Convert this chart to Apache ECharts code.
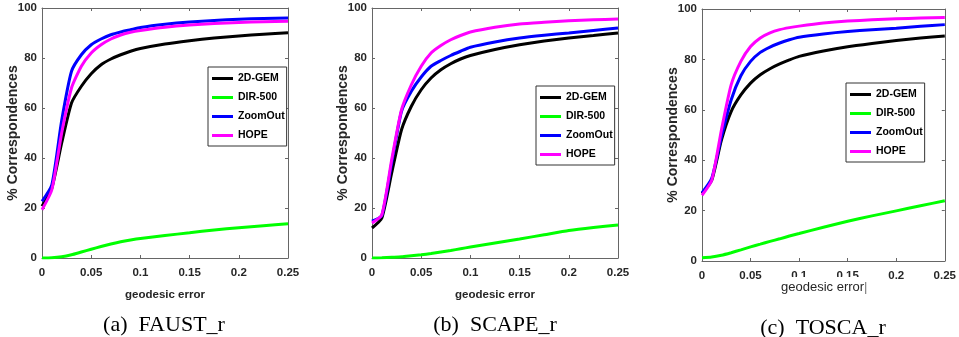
<!DOCTYPE html>
<html>
<head>
<meta charset="utf-8">
<script src="https://cdn.jsdelivr.net/npm/echarts@6/dist/echarts.min.js"></script>
<style>
  html, body { margin: 0; padding: 0; background: #fff; }
  #chart { width: 959px; height: 337px; }
</style>
</head>
<body>
<div id="chart"></div>
<script>
// geodesic error thresholds (x) shared by all three plots
const xs = [0, 0.01, 0.02, 0.03, 0.04, 0.05, 0.06, 0.07, 0.08, 0.09, 0.10, 0.125, 0.15, 0.175, 0.2, 0.225, 0.25];

const methods = ['2D-GEM', 'DIR-500', 'ZoomOut', 'HOPE'];
const colors = ['#000000', '#00ff00', '#0000ff', '#ff00ff'];

// (a) FAUST_r
const faustGem = [20.7, 28, 46, 62, 68.7, 73.7, 77.3, 79.6, 81.3, 82.7, 83.8, 85.6, 86.9, 88, 88.8, 89.5, 90.1];
const faustDir = [0, 0.1, 0.5, 1.3, 2.4, 3.5, 4.6, 5.6, 6.5, 7.2, 7.8, 9, 10.1, 11.2, 12.1, 12.9, 13.7];
const faustZoom = [22.7, 29.3, 55, 74.7, 81.3, 85.3, 87.6, 89.3, 90.4, 91.3, 92.2, 93.5, 94.4, 95, 95.5, 95.8, 96];
const faustHope = [19.3, 27.3, 50, 68, 76.7, 82, 85.3, 87.6, 89.2, 90.3, 91, 92.3, 93.2, 93.8, 94.2, 94.5, 94.7];

// (b) SCAPE_r
const scapeGem = [12, 16, 34, 51.3, 60.7, 67.3, 72, 75.3, 77.7, 79.6, 81, 83.4, 85.3, 86.8, 88, 89, 90];
const scapeDir = [0, 0.1, 0.3, 0.5, 0.9, 1.3, 1.8, 2.4, 3.0, 3.7, 4.4, 6, 7.6, 9.3, 11, 12.2, 13.2];
const scapeZoom = [14.7, 17, 38, 58.7, 66.7, 72.4, 76.7, 79, 81, 82.7, 84.3, 86.4, 88, 89.1, 90, 91, 92];
const scapeHope = [14, 17.3, 39.3, 59.3, 69.3, 76.7, 82, 85, 87.3, 89, 90.4, 92.3, 93.6, 94.3, 94.9, 95.3, 95.6];

// (c) TOSCA_r
const toscaGem = [26.8, 32, 48, 59.3, 65.9, 70.6, 73.9, 76.3, 78.2, 79.8, 81.2, 83.3, 85, 86.3, 87.5, 88.5, 89.3];
const toscaDir = [1.3, 1.6, 2.3, 3.3, 4.4, 5.6, 6.7, 7.8, 8.8, 9.9, 10.9, 13.4, 15.8, 17.9, 19.9, 21.9, 23.9];
const toscaZoom = [27, 32.8, 49.3, 63.9, 73.5, 79.2, 82.8, 84.9, 86.5, 87.8, 88.8, 90.1, 91.1, 91.8, 92.4, 93.2, 93.8];
const toscaHope = [26.1, 32, 52, 69.9, 79.2, 85.1, 88.5, 90.5, 91.8, 92.6, 93.2, 94.4, 95.2, 95.7, 96.1, 96.4, 96.6];

const captions = ['(a)  FAUST_r', '(b)  SCAPE_r', '(c)  TOSCA_r'];
const panels = [
  [faustGem, faustDir, faustZoom, faustHope],
  [scapeGem, scapeDir, scapeZoom, scapeHope],
  [toscaGem, toscaDir, toscaZoom, toscaHope]
];

const font = 'Liberation Sans';
const axisColor = '#666666';
const textColor = '#262626';

const grids = [
  { left: 42, top: 8, width: 246, height: 250 },
  { left: 372, top: 8, width: 246, height: 250 },
  { left: 702, top: 9, width: 246, height: 252 }
];
const legendPos = [
  { left: 208, top: 67 },
  { left: 536, top: 86 },
  { left: 846, top: 83 }
];
const captionPos = [
  { left: 164, top: 314 },
  { left: 495, top: 314 },
  { left: 823, top: 317 }
];

const xAxis = [];
const yAxis = [];
const series = [];

grids.forEach((g, i) => {
  const last = i === 2;
  xAxis.push({
    gridIndex: i,
    type: 'value',
    min: 0,
    max: 0.25,
    interval: 0.05,
    position: 'bottom',
    // the TOSCA plot's axis title is pasted over its tick labels (see graphic below)
    name: last ? '' : 'geodesic error',
    nameLocation: 'middle',
    nameMoveOverlap: false,
    nameGap: 31,
    nameTextStyle: { fontFamily: font, fontWeight: 'bold', fontSize: 11.5, color: textColor },
    axisLine: { show: true, onZero: false, lineStyle: { color: axisColor, width: 1 } },
    axisTick: { show: true, inside: true, length: 3, lineStyle: { color: axisColor } },
    axisLabel: { margin: 9, fontFamily: font, fontWeight: 'bold', fontSize: 11.5, color: textColor },
    splitLine: { show: false }
  });
  xAxis.push({
    gridIndex: i,
    type: 'value',
    min: 0,
    max: 0.25,
    interval: 0.05,
    position: 'top',
    axisLine: { show: true, onZero: false, lineStyle: { color: axisColor, width: 1 } },
    axisTick: { show: true, inside: true, length: 3, lineStyle: { color: axisColor } },
    axisLabel: { show: false },
    splitLine: { show: false }
  });
  yAxis.push({
    gridIndex: i,
    type: 'value',
    min: 0,
    max: 100,
    interval: 20,
    position: 'left',
    name: '% Correspondences',
    nameLocation: 'middle',
    nameMoveOverlap: false,
    nameGap: 22,
    nameTextStyle: { fontFamily: font, fontWeight: 'bold', fontSize: 14, color: textColor },
    axisLine: { show: true, onZero: false, lineStyle: { color: axisColor, width: 1 } },
    axisTick: { show: true, inside: true, length: 3, lineStyle: { color: axisColor } },
    axisLabel: { margin: 5, fontFamily: font, fontWeight: 'bold', fontSize: 11.5, color: textColor },
    splitLine: { show: false }
  });
  yAxis.push({
    gridIndex: i,
    type: 'value',
    min: 0,
    max: 100,
    interval: 20,
    position: 'right',
    axisLine: { show: true, onZero: false, lineStyle: { color: axisColor, width: 1 } },
    axisTick: { show: true, inside: true, length: 3, lineStyle: { color: axisColor } },
    axisLabel: { show: false },
    splitLine: { show: false }
  });

  panels[i].forEach((vals, k) => {
    series.push({
      name: methods[k],
      type: 'line',
      xAxisIndex: i * 2,
      yAxisIndex: i * 2,
      data: xs.map((x, j) => [x, vals[j]]),
      symbol: 'none',
      showSymbol: false,
      smooth: 0.2,
      color: colors[k],
      lineStyle: { color: colors[k], width: 3 },
      animation: false
    });
  });
});

const option = {
  animation: false,
  backgroundColor: '#ffffff',
  grid: grids,
  xAxis: xAxis,
  yAxis: yAxis,
  legend: legendPos.map(p => ({
    data: methods,
    orient: 'vertical',
    left: p.left,
    top: p.top,
    icon: 'rect',
    itemWidth: 21,
    itemHeight: 3,
    itemGap: 8,
    itemTextGap: 1,
    padding: [6, 2, 5, 4],
    borderColor: '#333333',
    borderWidth: 1,
    backgroundColor: '#ffffff',
    selectedMode: false,
    textStyle: { fontFamily: font, fontWeight: 'bold', fontSize: 10.5, color: '#000000' }
  })),
  title: captions.map((c, i) => ({
    text: c,
    left: captionPos[i].left,
    top: captionPos[i].top,
    textAlign: 'center',
    padding: 0,
    textStyle: { fontFamily: 'Liberation Serif', fontWeight: 'normal', fontSize: 22, color: '#000000' }
  })),
  graphic: [{
    type: 'text',
    left: 779,
    top: 277,
    z: 100,
    style: {
      text: 'geodesic error{bar||}',
      fontFamily: font,
      fontSize: 13,
      fill: textColor,
      backgroundColor: '#ffffff',
      padding: [4, 1, 2, 2],
      rich: { bar: { fontFamily: font, fontSize: 13, fill: '#777777' } }
    }
  }],
  series: series
};

const chart = echarts.init(document.getElementById('chart'));
chart.setOption(option);
</script>
</body>
</html>
